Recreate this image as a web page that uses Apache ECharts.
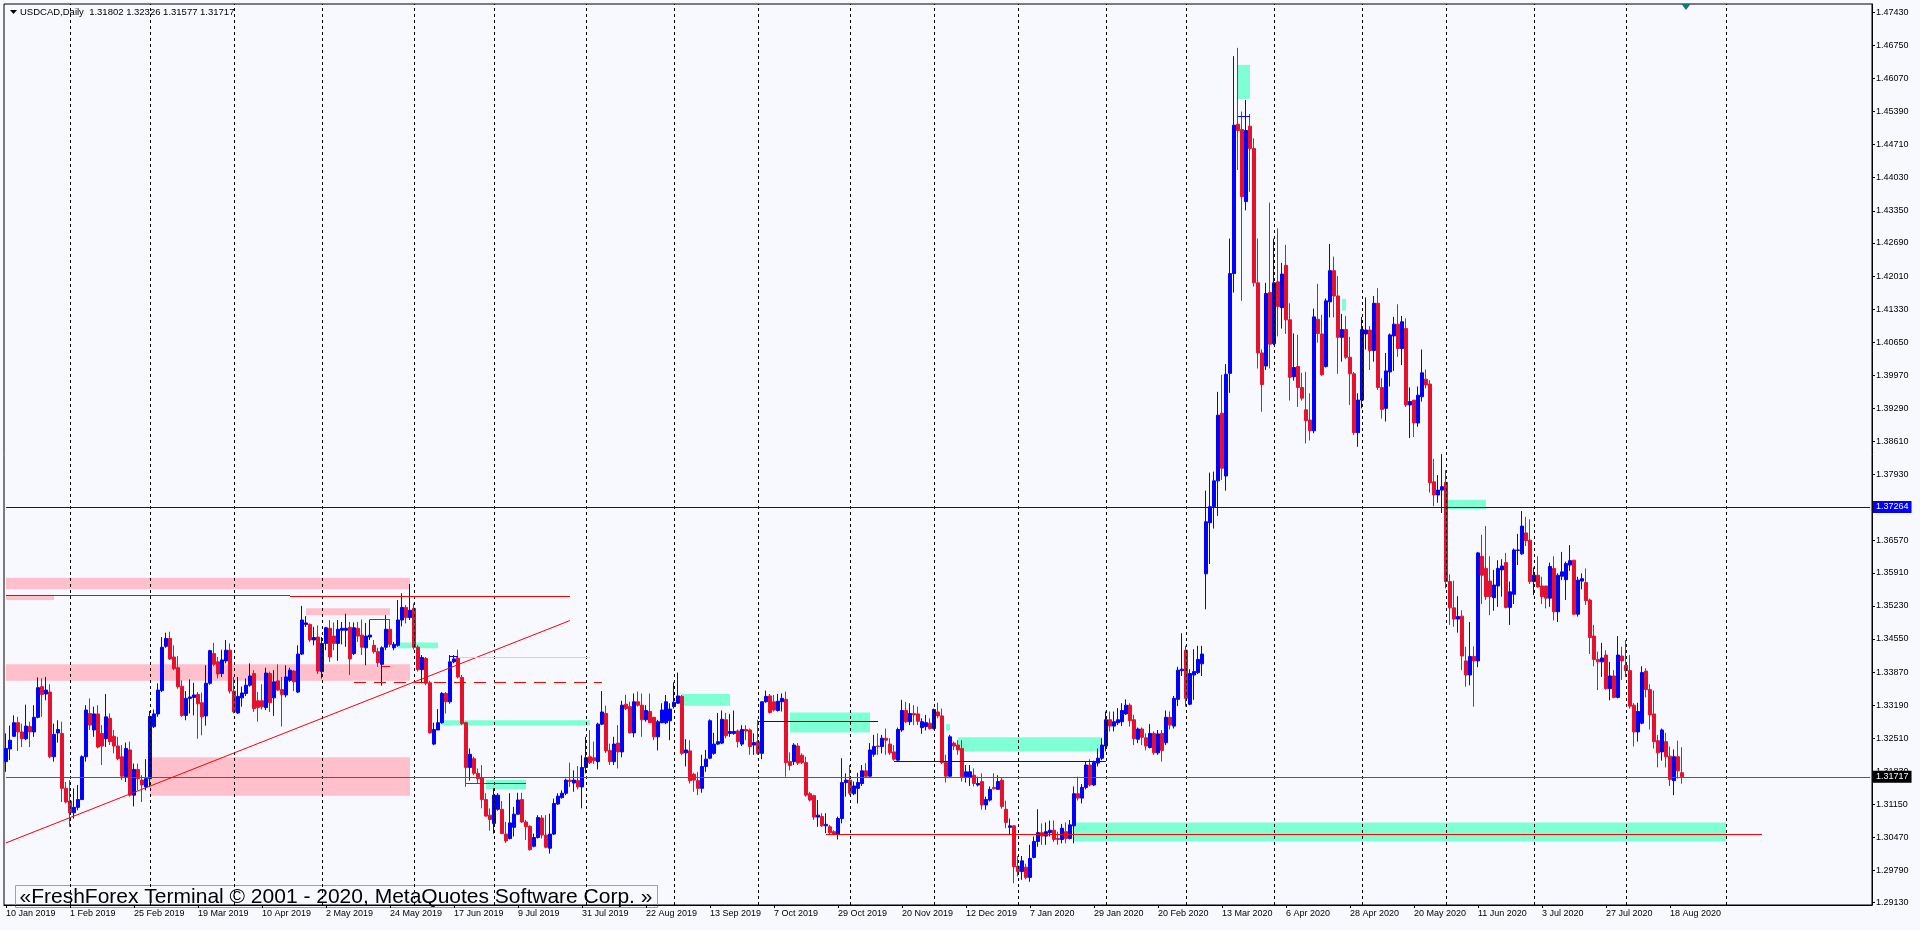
<!DOCTYPE html>
<html>
<head>
<meta charset="utf-8">
<title>USDCAD Daily</title>
<script src="https://cdn.jsdelivr.net/npm/echarts@6.0.0/dist/echarts.min.js"></script>
<style>
  html, body { margin: 0; padding: 0; background: #f8f8ff; }
  #chart { width: 1920px; height: 930px; }
</style>
</head>
<body>
<div id="chart"></div>
<script>
// daily bars, [open, close, low, high]
const bars2019a = [
  [1.3203,1.3230,1.3182,1.3261],[1.3229,1.3247,1.3206,1.3277],[1.3255,1.3283,1.3254,1.3298],[1.3283,1.3264,1.3225,1.3295],[1.3264,1.3250,1.3233,1.3281],
  [1.3250,1.3276,1.3247,1.3320],[1.3275,1.3264,1.3233,1.3285],[1.3264,1.3294,1.3254,1.3319],[1.3294,1.3355,1.3292,1.3376],[1.3357,1.3341,1.3295,1.3374],
  [1.3342,1.3350,1.3329,1.3377],[1.3346,1.3213,1.3210,1.3362],[1.3213,1.3259,1.3203,1.3281],[1.3262,1.3269,1.3242,1.3288],[1.3261,1.3148,1.3120,1.3285],
  [1.3148,1.3120,1.3117,1.3161],[1.3122,1.3098,1.3069,1.3165],[1.3098,1.3109,1.3086,1.3148],[1.3109,1.3125,1.3103,1.3155],[1.3125,1.3213,1.3124,1.3216],
  [1.3213,1.3309,1.3203,1.3319],[1.3302,1.3278,1.3268,1.3333],[1.3268,1.3301,1.3254,1.3316],[1.3301,1.3233,1.3230,1.3319],[1.3261,1.3235,1.3196,1.3278],
  [1.3250,1.3295,1.3233,1.3342],[1.3292,1.3244,1.3237,1.3302],[1.3255,1.3235,1.3220,1.3268],[1.3235,1.3209,1.3206,1.3254],[1.3213,1.3173,1.3165,1.3237],
  [1.3172,1.3230,1.3161,1.3242],[1.3227,1.3134,1.3131,1.3244],[1.3134,1.3187,1.3111,1.3199],[1.3187,1.3168,1.3144,1.3199],[1.3165,1.3155,1.3120,1.3175],
  [1.3151,1.3168,1.3144,1.3208],[1.3168,1.3296,1.3151,1.3307],[1.3275,1.3301,1.3272,1.3310],[1.3301,1.3350,1.3295,1.3364],[1.3349,1.3438,1.3346,1.3459],
  [1.3440,1.3456,1.3437,1.3468],[1.3456,1.3414,1.3412,1.3470],[1.3418,1.3394,1.3391,1.3442],[1.3396,1.3357,1.3353,1.3420],[1.3358,1.3298,1.3295,1.3370],
  [1.3298,1.3333,1.3288,1.3348],[1.3333,1.3336,1.3302,1.3372],[1.3335,1.3340,1.3298,1.3365],[1.3341,1.3322,1.3250,1.3346],[1.3324,1.3295,1.3257,1.3345],
  [1.3297,1.3364,1.3277,1.3401],[1.3364,1.3431,1.3361,1.3433],[1.3425,1.3403,1.3399,1.3447],[1.3408,1.3383,1.3374,1.3418],[1.3384,1.3412,1.3377,1.3433],
  [1.3410,1.3432,1.3405,1.3453],[1.3432,1.3348,1.3343,1.3446],[1.3348,1.3305,1.3302,1.3377],[1.3303,1.3337,1.3301,1.3377],[1.3334,1.3344,1.3316,1.3357],
  [1.3343,1.3360,1.3338,1.3374],[1.3360,1.3379,1.3357,1.3405],[1.3384,1.3312,1.3305,1.3391],[1.3328,1.3314,1.3285,1.3346],[1.3328,1.3316,1.3310,1.3362],
  [1.3314,1.3385,1.3309,1.3396],[1.3384,1.3324,1.3305,1.3388],[1.3334,1.3367,1.3297,1.3391],[1.3369,1.3350,1.3348,1.3403],[1.3351,1.3341,1.3275,1.3377],
  [1.3340,1.3377,1.3335,1.3401],[1.3370,1.3391,1.3367,1.3396],[1.3389,1.3367,1.3348,1.3391],[1.3346,1.3424,1.3344,1.3442],[1.3424,1.3494,1.3422,1.3523],
  [1.3485,1.3488,1.3480,1.3502],[1.3485,1.3453,1.3449,1.3487],[1.3453,1.3458,1.3442,1.3480],[1.3459,1.3389,1.3383,1.3483],[1.3388,1.3446,1.3374,1.3459],
  [1.3446,1.3478,1.3432,1.3480],[1.3477,1.3418,1.3408,1.3494],[1.3461,1.3446,1.3432,1.3489],[1.3446,1.3475,1.3410,1.3494],[1.3473,1.3477,1.3444,1.3490],
  [1.3473,1.3477,1.3439,1.3507],[1.3479,1.3414,1.3381,1.3490],[1.3425,1.3478,1.3422,1.3489],[1.3477,1.3461,1.3449,1.3490],[1.3463,1.3438,1.3422,1.3495],
  [1.3437,1.3461,1.3401,1.3488],[1.3459,1.3463,1.3453,1.3495],[1.3442,1.3429,1.3425,1.3453],[1.3429,1.3406,1.3398,1.3437],[1.3403,1.3437,1.3359,1.3440],
  [1.3438,1.3475,1.3432,1.3504],[1.3475,1.3444,1.3438,1.3494],[1.3437,1.3444,1.3432,1.3449],[1.3442,1.3494,1.3439,1.3535],[1.3494,1.3520,1.3481,1.3549]
];
const bars2019b = [
  [1.3520,1.3499,1.3487,1.3525],[1.3499,1.3514,1.3494,1.3568],[1.3518,1.3438,1.3433,1.3528],[1.3438,1.3392,1.3388,1.3442],[1.3392,1.3417,1.3364,1.3422],
  [1.3415,1.3364,1.3360,1.3418],[1.3365,1.3262,1.3261,1.3369],[1.3239,1.3269,1.3237,1.3283],[1.3268,1.3283,1.3268,1.3311],[1.3283,1.3343,1.3281,1.3346],
  [1.3343,1.3326,1.3302,1.3346],[1.3326,1.3408,1.3322,1.3422],[1.3408,1.3414,1.3405,1.3422],[1.3417,1.3377,1.3374,1.3433],[1.3376,1.3281,1.3278,1.3381],
  [1.3283,1.3191,1.3151,1.3285],[1.3191,1.3218,1.3164,1.3230],[1.3209,1.3179,1.3175,1.3213],[1.3179,1.3168,1.3159,1.3189],[1.3170,1.3125,1.3107,1.3196],
  [1.3125,1.3091,1.3090,1.3138],[1.3093,1.3084,1.3061,1.3107],[1.3076,1.3134,1.3055,1.3148],[1.3105,1.3134,1.3102,1.3138],[1.3105,1.3055,1.3054,1.3122],
  [1.3054,1.3040,1.3036,1.3079],[1.3045,1.3077,1.3043,1.3138],[1.3068,1.3095,1.3049,1.3110],[1.3095,1.3124,1.3094,1.3139],[1.3125,1.3079,1.3077,1.3139],
  [1.3079,1.3069,1.3042,1.3083],[1.3070,1.3022,1.3020,1.3072],[1.3029,1.3047,1.3027,1.3055],[1.3047,1.3088,1.3045,1.3093],[1.3087,1.3052,1.3045,1.3093],
  [1.3052,1.3027,1.3025,1.3093],[1.3025,1.3054,1.3014,1.3096],[1.3054,1.3117,1.3052,1.3127],[1.3116,1.3132,1.3114,1.3138],[1.3129,1.3138,1.3127,1.3144],
  [1.3138,1.3165,1.3134,1.3168],[1.3165,1.3162,1.3151,1.3201],[1.3159,1.3165,1.3141,1.3185],[1.3164,1.3151,1.3146,1.3194],[1.3151,1.3191,1.3107,1.3216],
  [1.3191,1.3211,1.3179,1.3254],[1.3213,1.3201,1.3198,1.3268],[1.3211,1.3205,1.3198,1.3244],[1.3203,1.3280,1.3187,1.3283],[1.3280,1.3305,1.3278,1.3348],
  [1.3302,1.3225,1.3221,1.3318],[1.3226,1.3203,1.3196,1.3240],[1.3203,1.3239,1.3196,1.3254],[1.3241,1.3223,1.3189,1.3278],[1.3223,1.3319,1.3212,1.3328],
  [1.3321,1.3312,1.3309,1.3340],[1.3316,1.3262,1.3261,1.3326],[1.3262,1.3326,1.3253,1.3343],[1.3326,1.3319,1.3316,1.3347],[1.3319,1.3289,1.3254,1.3343],
  [1.3289,1.3308,1.3285,1.3319],[1.3306,1.3283,1.3282,1.3343],[1.3294,1.3254,1.3247,1.3295],[1.3254,1.3285,1.3226,1.3289],[1.3283,1.3309,1.3282,1.3323],
  [1.3283,1.3326,1.3280,1.3340],[1.3287,1.3311,1.3247,1.3323],[1.3316,1.3325,1.3312,1.3366],[1.3323,1.3338,1.3322,1.3386],[1.3337,1.3220,1.3216,1.3340],
  [1.3221,1.3227,1.3193,1.3249],[1.3225,1.3164,1.3158,1.3247],[1.3177,1.3165,1.3141,1.3180],[1.3164,1.3148,1.3134,1.3182],[1.3148,1.3193,1.3139,1.3217],
  [1.3193,1.3208,1.3182,1.3227],[1.3210,1.3287,1.3208,1.3290],[1.3220,1.3239,1.3217,1.3262],[1.3239,1.3244,1.3237,1.3303],[1.3241,1.3290,1.3239,1.3308],
  [1.3289,1.3256,1.3251,1.3303],[1.3261,1.3265,1.3254,1.3301],[1.3261,1.3265,1.3258,1.3308],[1.3266,1.3244,1.3232,1.3269],[1.3239,1.3269,1.3235,1.3278],
  [1.3269,1.3266,1.3247,1.3278],[1.3268,1.3234,1.3217,1.3271],[1.3237,1.3242,1.3217,1.3261],[1.3244,1.3220,1.3217,1.3289],[1.3220,1.3326,1.3208,1.3326],
  [1.3326,1.3337,1.3324,1.3349],[1.3338,1.3304,1.3302,1.3342],[1.3326,1.3309,1.3306,1.3340],[1.3308,1.3327,1.3306,1.3342],[1.3326,1.3333,1.3306,1.3343],
  [1.3331,1.3201,1.3172,1.3347],[1.3203,1.3195,1.3185,1.3222],[1.3203,1.3237,1.3196,1.3241],[1.3235,1.3200,1.3196,1.3241],[1.3216,1.3201,1.3198,1.3220]
];
const bars2020a = [
  [1.3201,1.3134,1.3131,1.3213],[1.3137,1.3124,1.3121,1.3141],[1.3133,1.3089,1.3083,1.3135],[1.3089,1.3093,1.3069,1.3124],[1.3090,1.3071,1.3069,1.3097],
  [1.3071,1.3074,1.3056,1.3097],[1.3069,1.3057,1.3054,1.3073],[1.3059,1.3054,1.3052,1.3062],[1.3054,1.3086,1.3043,1.3090],[1.3086,1.3160,1.3076,1.3210],
  [1.3160,1.3165,1.3131,1.3179],[1.3165,1.3138,1.3134,1.3196],[1.3137,1.3153,1.3134,1.3162],[1.3148,1.3160,1.3117,1.3180],[1.3158,1.3184,1.3153,1.3196],
  [1.3184,1.3173,1.3171,1.3200],[1.3173,1.3227,1.3172,1.3241],[1.3218,1.3234,1.3213,1.3258],[1.3235,1.3234,1.3217,1.3261],[1.3234,1.3251,1.3220,1.3258],
  [1.3251,1.3247,1.3217,1.3271],[1.3239,1.3221,1.3217,1.3251],[1.3223,1.3208,1.3205,1.3237],[1.3206,1.3269,1.3205,1.3273],[1.3268,1.3308,1.3264,1.3330],
  [1.3308,1.3285,1.3282,1.3326],[1.3285,1.3302,1.3278,1.3323],[1.3302,1.3299,1.3278,1.3319],[1.3301,1.3286,1.3278,1.3316],[1.3273,1.3285,1.3260,1.3292],
  [1.3275,1.3283,1.3267,1.3299],[1.3282,1.3271,1.3269,1.3292],[1.3271,1.3310,1.3269,1.3312],[1.3305,1.3297,1.3292,1.3324],[1.3297,1.3201,1.3198,1.3312],
  [1.3201,1.3173,1.3160,1.3217],[1.3173,1.3254,1.3172,1.3258],[1.3241,1.3235,1.3227,1.3244],[1.3237,1.3227,1.3217,1.3247],[1.3230,1.3172,1.3162,1.3247],
  [1.3172,1.3182,1.3160,1.3196],[1.3171,1.3182,1.3153,1.3196],[1.3175,1.3158,1.3152,1.3189],[1.3155,1.3158,1.3152,1.3172],[1.3162,1.3114,1.3104,1.3179],
  [1.3114,1.3125,1.3104,1.3131],[1.3124,1.3146,1.3121,1.3152],[1.3150,1.3147,1.3146,1.3179],[1.3146,1.3162,1.3145,1.3175],[1.3165,1.3111,1.3106,1.3170],
  [1.3105,1.3078,1.3066,1.3123],[1.3068,1.3071,1.3052,1.3086],[1.3071,1.2987,1.2953,1.3071],[1.2988,1.2977,1.2967,1.3009],[1.2977,1.2999,1.2960,1.3009],
  [1.2986,1.2965,1.2961,1.2993],[1.2965,1.3004,1.2956,1.3032],[1.3006,1.3039,1.3004,1.3049],[1.3039,1.3057,1.3028,1.3105],[1.3057,1.3050,1.3032,1.3076],
  [1.3050,1.3059,1.3032,1.3078],[1.3057,1.3062,1.3049,1.3082],[1.3062,1.3043,1.3038,1.3082],[1.3045,1.3043,1.3032,1.3059],[1.3043,1.3066,1.3035,1.3075],
  [1.3059,1.3045,1.3035,1.3078],[1.3045,1.3073,1.3043,1.3083],[1.3071,1.3137,1.3035,1.3152],[1.3137,1.3128,1.3123,1.3172],[1.3128,1.3150,1.3117,1.3157],
  [1.3150,1.3196,1.3146,1.3203],[1.3196,1.3155,1.3152,1.3208],[1.3155,1.3201,1.3153,1.3205],[1.3200,1.3210,1.3193,1.3230],[1.3210,1.3237,1.3206,1.3251],
  [1.3235,1.3289,1.3224,1.3306],[1.3289,1.3276,1.3265,1.3306],[1.3276,1.3285,1.3265,1.3306],[1.3283,1.3289,1.3278,1.3313],[1.3285,1.3308,1.3276,1.3323],
  [1.3301,1.3319,1.3299,1.3331],[1.3319,1.3287,1.3275,1.3323],[1.3289,1.3250,1.3237,1.3299],[1.3249,1.3270,1.3241,1.3273],[1.3270,1.3253,1.3237,1.3273],
  [1.3252,1.3235,1.3226,1.3261],[1.3232,1.3261,1.3230,1.3280],[1.3261,1.3221,1.3217,1.3265],[1.3221,1.3260,1.3217,1.3268],[1.3261,1.3226,1.3203,1.3268],
  [1.3242,1.3294,1.3237,1.3308],[1.3294,1.3278,1.3269,1.3306],[1.3276,1.3333,1.3271,1.3338],[1.3331,1.3391,1.3317,1.3398],[1.3390,1.3393,1.3379,1.3467],
  [1.3432,1.3333,1.3316,1.3441],[1.3321,1.3384,1.3319,1.3393],[1.3381,1.3388,1.3330,1.3434],[1.3386,1.3413,1.3383,1.3441],[1.3404,1.3424,1.3379,1.3441]
];
const bars2020b = [
  [1.3589,1.3696,1.3516,1.3760],[1.3694,1.3727,1.3609,1.3797],[1.3727,1.3780,1.3682,1.3799],[1.3780,1.3915,1.3708,1.3963],[1.3919,1.3806,1.3782,1.3998],
  [1.3790,1.3999,1.3760,1.4020],[1.4001,1.4206,1.3961,1.4278],[1.4206,1.4511,1.4167,1.4653],[1.4513,1.4500,1.4419,1.4670],[1.4502,1.4364,1.4150,1.4539],
  [1.4354,1.4500,1.4336,1.4563],[1.4509,1.4463,1.4374,1.4534],[1.4463,1.4187,1.4179,1.4484],[1.4187,1.4043,1.4011,1.4278],[1.4043,1.3978,1.3922,1.4050],
  [1.4016,1.4165,1.4008,1.4187],[1.4167,1.4061,1.4011,1.4352],[1.4062,1.4187,1.4059,1.4278],[1.4189,1.4138,1.4077,1.4299],[1.4136,1.4205,1.4093,1.4228],
  [1.4223,1.4111,1.4082,1.4265],[1.4111,1.3993,1.3945,1.4145],[1.3994,1.4013,1.3986,1.4083],[1.4015,1.3972,1.3932,1.4080],[1.3972,1.3950,1.3945,1.4002],
  [1.3926,1.3904,1.3857,1.4004],[1.3905,1.3883,1.3863,1.3960],[1.3883,1.4117,1.3878,1.4134],[1.4112,1.4083,1.4064,1.4185],[1.4082,1.3998,1.3996,1.4121],
  [1.4015,1.4150,1.4013,1.4155],[1.4148,1.4212,1.4116,1.4267],[1.4212,1.4160,1.4116,1.4241],[1.4160,1.4075,1.4000,1.4201],[1.4075,1.4091,1.4025,1.4123],
  [1.4091,1.4034,1.4030,1.4119],[1.4034,1.4000,1.3936,1.4076],[1.4000,1.3879,1.3874,1.4004],[1.3879,1.3946,1.3850,1.3960],[1.3946,1.4091,1.3929,1.4117],
  [1.4082,1.4090,1.4050,1.4157],[1.4090,1.4048,1.4008,1.4098],[1.4048,1.4145,1.4025,1.4160],[1.4145,1.3972,1.3967,1.4176],[1.3972,1.3927,1.3908,1.3991],
  [1.3929,1.4006,1.3902,1.4043],[1.4004,1.4080,1.3974,1.4083],[1.4078,1.4102,1.4006,1.4117],[1.4102,1.4052,1.4035,1.4143],[1.4052,1.4107,1.4018,1.4119],
  [1.4093,1.3936,1.3932,1.4114],[1.3936,1.3943,1.3868,1.3972],[1.3946,1.3899,1.3870,1.3946],[1.3899,1.3956,1.3891,1.3974],[1.3953,1.4002,1.3943,1.4050],
  [1.3989,1.3977,1.3970,1.4009],[1.3979,1.3776,1.3756,1.3987],[1.3778,1.3751,1.3728,1.3825],[1.3751,1.3761,1.3735,1.3792],[1.3761,1.3768,1.3714,1.3835],
  [1.3777,1.3573,1.3559,1.3802],[1.3573,1.3519,1.3484,1.3588],[1.3519,1.3496,1.3480,1.3575],[1.3496,1.3501,1.3468,1.3543],[1.3502,1.3420,1.3391,1.3514],
  [1.3410,1.3381,1.3357,1.3439],[1.3381,1.3419,1.3360,1.3490],[1.3419,1.3410,1.3316,1.3440],[1.3410,1.3632,1.3397,1.3634],[1.3625,1.3586,1.3527,1.3669],
  [1.3600,1.3542,1.3535,1.3687],[1.3574,1.3542,1.3504,1.3625],[1.3540,1.3566,1.3513,1.3597],[1.3564,1.3600,1.3521,1.3617],[1.3597,1.3605,1.3542,1.3619],
  [1.3612,1.3520,1.3518,1.3632],[1.3520,1.3552,1.3484,1.3573],[1.3547,1.3638,1.3527,1.3641],[1.3637,1.3638,1.3607,1.3671],[1.3630,1.3687,1.3628,1.3718],
  [1.3673,1.3657,1.3646,1.3706],[1.3658,1.3573,1.3568,1.3701],[1.3573,1.3586,1.3545,1.3602],[1.3586,1.3562,1.3561,1.3625],[1.3564,1.3542,1.3527,1.3583],
  [1.3564,1.3539,1.3518,1.3564],[1.3539,1.3604,1.3521,1.3612],[1.3600,1.3511,1.3493,1.3625],[1.3511,1.3586,1.3490,1.3590],[1.3584,1.3593,1.3576,1.3634],
  [1.3577,1.3610,1.3535,1.3614],[1.3607,1.3616,1.3595,1.3648],[1.3617,1.3506,1.3504,1.3617],[1.3506,1.3576,1.3501,1.3583],[1.3574,1.3579,1.3557,1.3590],
  [1.3571,1.3534,1.3525,1.3600],[1.3535,1.3458,1.3424,1.3538],[1.3461,1.3413,1.3399,1.3484],[1.3413,1.3408,1.3350,1.3429],[1.3408,1.3416,1.3377,1.3447],
  [1.3422,1.3353,1.3351,1.3432],[1.3353,1.3379,1.3329,1.3408],[1.3379,1.3335,1.3333,1.3391],[1.3335,1.3422,1.3333,1.3461],[1.3420,1.3410,1.3371,1.3439],
  [1.3401,1.3390,1.3377,1.3453],[1.3390,1.3317,1.3312,1.3422],[1.3319,1.3264,1.3234,1.3323],[1.3264,1.3306,1.3244,1.3324],[1.3282,1.3386,1.3280,1.3399],
  [1.3389,1.3351,1.3335,1.3395],[1.3351,1.3299,1.3269,1.3362],[1.3301,1.3244,1.3230,1.3349],[1.3246,1.3221,1.3191,1.3258],[1.3223,1.3268,1.3205,1.3271],
  [1.3244,1.3213,1.3191,1.3262],[1.3214,1.3166,1.3153,1.3234],[1.3164,1.3213,1.3134,1.3228],[1.3213,1.3184,1.3168,1.3246],[1.31802,1.31717,1.31577,1.32326]
];

const yTicks = ['1.47430','1.46750','1.46070','1.45390','1.44710','1.44030','1.43350','1.42690','1.42010',
  '1.41330','1.40650','1.39970','1.39290','1.38610','1.37930','1.36570','1.35910','1.35230','1.34550',
  '1.33870','1.33190','1.32510','1.31830','1.31150','1.30470','1.29790','1.29130'];

// chart objects: [fromBar, toBar, price1, price2]
const pinkZones = [[0,101,1.3581,1.3557],[0,12,1.3546,1.3535],[75,96,1.3518,1.3504],[0,101,1.3403,1.3369],[36,101,1.3212,1.3133]];
const aquaZones = [[98,108,1.3448,1.3436],[109,146,1.3288,1.3277],[120,130,1.3165,1.3146],[169,181,1.3342,1.3318],
  [196,216,1.3304,1.3263],[235,236,1.3280,1.3267],[238,274,1.3253,1.3224],[267,430,1.3078,1.3039],
  [308,311,1.4635,1.4565],[334,335,1.4154,1.4130],[360,370,1.3741,1.3722]];
const redLines = [[0,71,1.3545,1.3545],[71,141,1.3543,1.3543],[91,96,1.3495,1.3495],[94,96,1.3399,1.3399],
  [115,130,1.3158,1.3158],[205,439,1.3054,1.3054],[0,141,1.3036,1.3493]];
const redDashed = [[87,149,1.3367,1.3367]];
const blueLines = [[188,218,1.3286,1.3286],[222,275,1.3203,1.3203],[111,113,1.3420,1.3420],[308,311,1.4530,1.4530]];
const aquaLines = [[113,146,1.3418,1.3418]];
const blueLevel = 1.37264;
const lastPrice = 1.31717;

const candles = bars2019a.concat(bars2019b, bars2020a, bars2020b);

const MONTHS = ['Jan','Feb','Mar','Apr','May','Jun','Jul','Aug','Sep','Oct','Nov','Dec'];
const TOTAL = 467;
const dates = [];
let d = new Date(2019, 0, 10);
while (dates.length < candles.length) {
  const wd = d.getDay();
  const hol = (d.getMonth() === 11 && d.getDate() === 25) || (d.getMonth() === 0 && d.getDate() === 1);
  if (wd !== 0 && wd !== 6 && !hol) dates.push(new Date(d));
  d.setDate(d.getDate() + 1);
}
// terminal extends the time scale past the last bar day by day
d = new Date(dates[dates.length - 1]);
while (dates.length < TOTAL) {
  d.setDate(d.getDate() + 1);
  dates.push(new Date(d));
}
const categories = dates.map(x => x.getDate() + ' ' + MONTHS[x.getMonth()] + ' ' + x.getFullYear());

const monthStarts = [];
for (let i = 1; i < dates.length; i++) {
  if (dates[i].getMonth() !== dates[i - 1].getMonth() && dates[i] < new Date(2020, 8, 15)) monthStarts.push(i);
}

const FONT = '"Liberation Sans", Arial, sans-serif';
const showLabel = (i) => i % 16 === 0 && i < candles.length;

function zone(z, color) {
  return [{ coord: [z[0], z[2]], itemStyle: { color: color } }, { coord: [z[1], z[3]] }];
}
function seg(s, color, type, width) {
  return [{ coord: [s[0], s[2]], lineStyle: { color: color, type: type || 'solid', width: width || 1 } }, { coord: [s[1], s[3]] }];
}
// horizontal level across the whole chart, price box on the axis
function levelLine(v, lineColor, boxColor) {
  return [{
    coord: [0, v],
    lineStyle: { color: lineColor, type: 'solid', width: 1 },
    label: {
      show: true, position: 'end', distance: 3, formatter: v.toFixed(5),
      backgroundColor: boxColor, color: '#fff', fontSize: 9, fontFamily: FONT,
      padding: [2, 3, 1, 3]
    }
  }, { coord: [TOTAL - 1, v] }];
}

const chart = echarts.init(document.getElementById('chart'));
chart.setOption({
  animation: false,
  backgroundColor: '#f8f8ff',
  grid: { left: 4, right: 48, top: 4, bottom: 25, show: true, borderColor: '#000', borderWidth: 1, backgroundColor: '#f8f8ff' },
  xAxis: {
    type: 'category',
    data: categories,
    boundaryGap: true,
    axisLine: { lineStyle: { color: '#000', width: 1 } },
    axisTick: { show: true, alignWithLabel: true, interval: showLabel, length: 3, lineStyle: { color: '#000' } },
    axisLabel: { interval: showLabel, align: 'left', fontSize: 9, fontFamily: FONT, color: '#000', margin: 4 },
    splitLine: { show: false }
  },
  yAxis: {
    type: 'value',
    position: 'right',
    min: 1.29083,
    max: 1.47601,
    axisLine: { show: true, lineStyle: { color: '#000', width: 1 } },
    axisTick: { show: true, length: 3, customValues: yTicks.map(Number), lineStyle: { color: '#000' } },
    axisLabel: { customValues: yTicks.map(Number), formatter: v => v.toFixed(5), fontSize: 9, fontFamily: FONT, color: '#000', margin: 4 },
    splitLine: { show: false }
  },
  graphic: [
    { type: 'polygon', shape: { points: [[10, 10], [17, 10], [13.5, 14]] }, style: { fill: '#000' } },
    { type: 'text', left: 20, top: 7, style: { text: 'USDCAD,Daily  1.31802 1.32326 1.31577 1.31717', font: '9.5px ' + FONT, fill: '#000' } },
    {
      type: 'group', left: 13, top: 883,
      children: [
        { type: 'rect', shape: { x: 0, y: 0, width: 642, height: 22 }, style: { fill: 'none', stroke: '#f08080', lineWidth: 1 } },
        { type: 'text', x: 4, y: 12, style: { text: '«FreshForex Terminal © 2001 - 2020, MetaQuotes Software Corp. »', font: '21px ' + FONT, fill: '#000', verticalAlign: 'middle' } }
      ]
    }
  ],
  series: [
    {
      name: 'objects',
      type: 'line',
      data: [],
      z: 1,
      silent: true,
      markArea: {
        silent: true,
        data: pinkZones.map(z => zone(z, '#ffc0cb')).concat(aquaZones.map(z => zone(z, '#7fffd4')))
      },
      markLine: {
        silent: true,
        symbol: ['none', 'none'],
        label: { show: false },
        lineStyle: { color: '#000', type: [3, 3], width: 1 },
        data: monthStarts.map(i => ({ xAxis: i }))
      }
    },
    {
      name: 'USDCAD',
      type: 'candlestick',
      data: candles,
      z: 2,
      barWidth: 3,
      itemStyle: {
        color: '#0000ff', color0: '#e8112d',
        borderColor: '#0000ff', borderColor0: '#e8112d', borderColorDoji: '#0000ff',
        borderWidth: 1
      }
    },
    {
      name: 'lines',
      type: 'line',
      data: [],
      z: 3,
      silent: true,
      markLine: {
        silent: true,
        symbol: ['none', 'none'],
        label: { show: false },
        data: [
          levelLine(blueLevel, '#0000ff', '#0000ff'),
          levelLine(lastPrice, '#008080', '#000000')
        ].concat(
          redLines.map(s => seg(s, '#ff0000')),
          redDashed.map(s => seg(s, '#ff0000', [12, 8], 1)),
          blueLines.map(s => seg(s, '#0000ff', 'solid', 1)),
          aquaLines.map(s => seg(s, '#7fffd4', 'solid', 1))
        )
      },
      markPoint: {
        silent: true,
        symbol: 'triangle',
        symbolRotate: 180,
        symbolSize: [9, 6],
        label: { show: false },
        itemStyle: { color: '#0e7a72' },
        data: [{ coord: [candles.length, 1.4754] }]
      }
    }
  ]
});
</script>
</body>
</html>
